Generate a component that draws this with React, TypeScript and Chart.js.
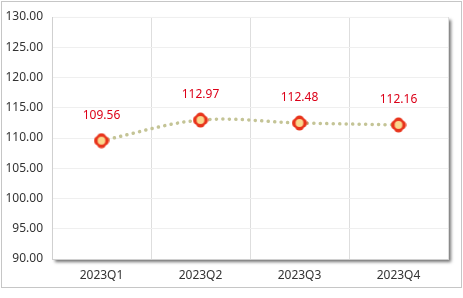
import React, { useEffect, useRef } from "react";
import { Chart, registerables } from "chart.js";

Chart.register(...registerables);

const categories = ["2023Q1", "2023Q2", "2023Q3", "2023Q4"];
const values = [109.56, 112.97, 112.48, 112.16];
const yMin = 90;
const yMax = 130;
const yStep = 5;

function makeMarker(): HTMLCanvasElement {
  const c = document.createElement("canvas");
  c.width = 16;
  c.height = 16;
  const ctx = c.getContext("2d")!;
  const cx = 8, cy = 8;
  ctx.fillStyle = "#e8341c";
  ctx.beginPath();
  ctx.arc(cx, cy, 6.2, 0, Math.PI * 2);
  ctx.fill();
  const offs = [[3, 0], [-3, 0], [0, 3], [0, -3]];
  for (const [dx, dy] of offs) {
    ctx.beginPath();
    ctx.arc(cx + dx, cy + dy, 4.6, 0, Math.PI * 2);
    ctx.fill();
  }
  ctx.fillStyle = "#fad88e";
  ctx.beginPath();
  ctx.arc(cx, cy, 3.9, 0, Math.PI * 2);
  ctx.fill();
  return c;
}

const framePlugin = {
  id: "frame",
  beforeDraw(chart: any) {
    const { ctx, chartArea: a, width, height } = chart;
    ctx.save();
    ctx.fillStyle = "#ffffff";
    ctx.fillRect(0, 0, width, height);
    ctx.strokeStyle = "#c6c6c6";
    ctx.lineWidth = 1;
    ctx.strokeRect(1.5, 1.5, width - 3, 287 - 1);
    ctx.shadowColor = "rgba(0,0,0,0.55)";
    ctx.shadowOffsetX = 3;
    ctx.shadowOffsetY = 3;
    ctx.shadowBlur = 3;
    ctx.fillStyle = "#ffffff";
    ctx.fillRect(a.left, a.top, a.right - a.left, a.bottom - a.top);
    ctx.restore();
  },
  afterDatasetsDraw(chart: any) {
    const { ctx } = chart;
    const meta = chart.getDatasetMeta(0);
    ctx.save();
    ctx.fillStyle = "#dc0018";
    ctx.font = "12px 'Noto Sans', sans-serif";
    ctx.textAlign = "center";
    ctx.textBaseline = "middle";
    meta.data.forEach((pt: any, i: number) => {
      ctx.fillText(values[i].toFixed(2), pt.x, pt.y - 25);
    });
    ctx.restore();
  },
};

export default function App() {
  const ref = useRef<HTMLCanvasElement>(null);
  useEffect(() => {
    document.body.style.margin = "0";
    const marker = makeMarker();
    const chart = new Chart(ref.current!, {
      type: "line",
      data: {
        labels: categories,
        datasets: [
          {
            data: values,
            borderColor: "rgb(196,196,150)",
            borderWidth: 3.5,
            borderDash: [0.1, 6.4],
            borderCapStyle: "round",
            tension: 0.35,
            pointStyle: marker as any,
            pointRadius: 8,
            pointHoverRadius: 8,
          },
        ],
      },
      options: {
        animation: false,
        responsive: false,
        events: [],
        layout: { padding: { left: 0, top: 17, right: 15, bottom: 0 } },
        plugins: { legend: { display: false }, tooltip: { enabled: false } },
        scales: {
          x: {
            offset: true,
            grid: {
              offset: true,
              color: "#dedede",
              drawTicks: false,
            },
            border: { color: "#d0d0d0" },
            ticks: {
              padding: 9,
              color: "#333333",
              font: { family: "'Noto Sans', sans-serif", size: 12 },
            },
            afterFit(scale: any) {
              scale.height = 39;
            },
          },
          y: {
            min: yMin,
            max: yMax,
            grid: { color: "#efefef", drawTicks: false },
            border: { color: "#d0d0d0" },
            ticks: {
              stepSize: yStep,
              padding: 9,
              color: "#333333",
              font: { family: "'Noto Sans', sans-serif", size: 12 },
              callback: (v: any) => Number(v).toFixed(2),
            },
            afterFit(scale: any) {
              scale.width = 52;
            },
          },
        },
      },
      plugins: [framePlugin],
    });
    return () => chart.destroy();
  }, []);
  return <canvas ref={ref} width={463} height={298} style={{ display: "block" }} />;
}
